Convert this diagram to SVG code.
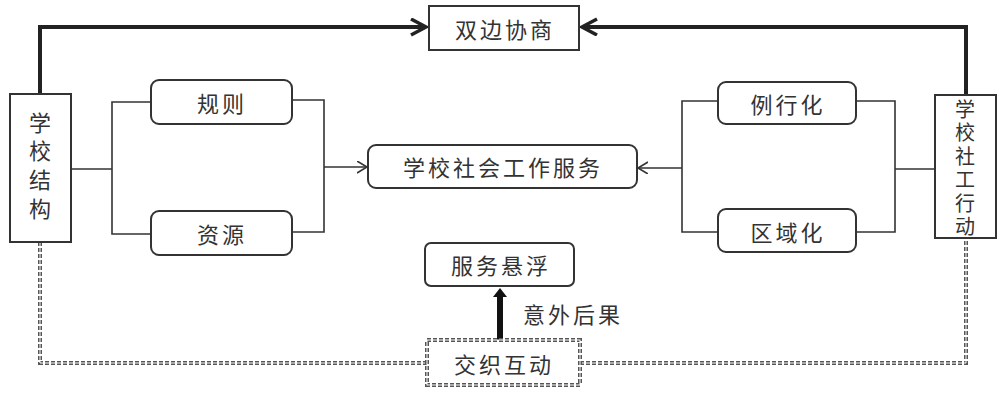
<svg xmlns="http://www.w3.org/2000/svg" width="1000" height="393" viewBox="0 0 1000 393">
<style>
.box{fill:#fff;stroke:#333;stroke-width:2}
.t{font-family:"Noto Sans CJK SC","Noto Sans",sans-serif;font-size:22px;fill:#333;text-anchor:middle;dominant-baseline:central;letter-spacing:3px}
.v{font-family:"Noto Sans CJK SC","Noto Sans",sans-serif;font-size:22px;fill:#333;text-anchor:middle;dominant-baseline:central}
.vs{font-family:"Noto Sans CJK SC","Noto Sans",sans-serif;font-size:20px;fill:#333;text-anchor:middle;dominant-baseline:central}
.ln{fill:none;stroke:#333;stroke-width:1.6}
.thick{fill:none;stroke:#222;stroke-width:4}
.dotA{fill:none;stroke:#555;stroke-width:4;stroke-dasharray:4 2}
.dotB{fill:none;stroke:#fff;stroke-width:1}
</style>
<defs>
<marker id="ah" markerUnits="userSpaceOnUse" markerWidth="14" markerHeight="14" refX="10" refY="6" orient="auto">
<path d="M0,0 L10,6 L0,12" fill="none" stroke="#333" stroke-width="1.6"/>
</marker>
<marker id="ahb" markerUnits="userSpaceOnUse" markerWidth="22" markerHeight="22" refX="16" refY="9" orient="auto">
<path d="M1,1 L16,9 L1,17" fill="none" stroke="#222" stroke-width="3.5"/>
</marker>
</defs>
<g id="connectors">
<path class="thick" d="M40,94 V27 H426" marker-end="url(#ahb)"/>
<path class="thick" d="M966,95 V27 H582" marker-end="url(#ahb)"/>
<path class="ln" d="M71,169 H112"/>
<path class="ln" d="M151,102 H112 V234 H151"/>
<path class="ln" d="M292,100 H324 V232 H292"/>
<path class="ln" d="M324,167 H367" marker-end="url(#ah)"/>
<path class="ln" d="M718,101 H682 V232 H718"/>
<path class="ln" d="M682,168 H638" marker-end="url(#ah)"/>
<path class="ln" d="M856,101 H895 V232 H856"/>
<path class="ln" d="M895,169 H935"/>
<path d="M500,340 V294" fill="none" stroke="#111" stroke-width="6"/>
<polygon points="493,297 500,288 507,297" fill="#111"/>
<path class="dotA" d="M40,242 V363 H427"/>
<path class="dotB" d="M40,242 V363 H427"/>
<path class="dotA" d="M580,363 H966 V238"/>
<path class="dotB" d="M580,363 H966 V238"/>
</g>
<g id="node-xuexiaojiegou">
<rect class="box" x="10" y="94" width="61" height="148"/>
<text class="v" x="40" y="121">学</text>
<text class="v" x="40" y="149">校</text>
<text class="v" x="40" y="178">结</text>
<text class="v" x="40" y="207">构</text>
</g>
<g id="node-shehuixingdong">
<rect class="box" x="935" y="95" width="61" height="143"/>
<text class="vs" x="965" y="108">学</text>
<text class="vs" x="965" y="131.5">校</text>
<text class="vs" x="965" y="155">社</text>
<text class="vs" x="965" y="178.5">工</text>
<text class="vs" x="965" y="202">行</text>
<text class="vs" x="965" y="225.5">动</text>
</g>
<g id="node-shuangbianxieshang">
<rect class="box" x="429" y="6" width="150" height="44"/>
<text class="t" x="505" y="28">双边协商</text>
</g>
<g id="node-guize">
<rect class="box" x="151" y="80" width="141" height="44" rx="8"/>
<text class="t" x="222" y="102">规则</text>
</g>
<g id="node-ziyuan">
<rect class="box" x="151" y="211" width="141" height="44" rx="8"/>
<text class="t" x="222" y="233">资源</text>
</g>
<g id="node-fuwu">
<rect class="box" x="368" y="145" width="269" height="43" rx="8"/>
<text class="t" x="503" y="166">学校社会工作服务</text>
</g>
<g id="node-lixinghua">
<rect class="box" x="718" y="82" width="138" height="42" rx="8"/>
<text class="t" x="788" y="103">例行化</text>
</g>
<g id="node-quyuhua">
<rect class="box" x="718" y="209" width="138" height="43" rx="8"/>
<text class="t" x="788" y="231">区域化</text>
</g>
<g id="node-fuwuxuanfu">
<rect class="box" x="425" y="243" width="149" height="43" rx="6"/>
<text class="t" x="501" y="264">服务悬浮</text>
</g>
<g id="label-yiwai">
<text class="t" x="573" y="313">意外后果</text>
</g>
<g id="node-jiaozhihudong">
<rect x="427" y="340" width="153" height="45" fill="#fff" stroke="#555" stroke-width="4" stroke-dasharray="4 2"/>
<rect x="427" y="340" width="153" height="45" fill="none" stroke="#fff" stroke-width="1"/>
<text class="t" x="504" y="363">交织互动</text>
</g>
</svg>
